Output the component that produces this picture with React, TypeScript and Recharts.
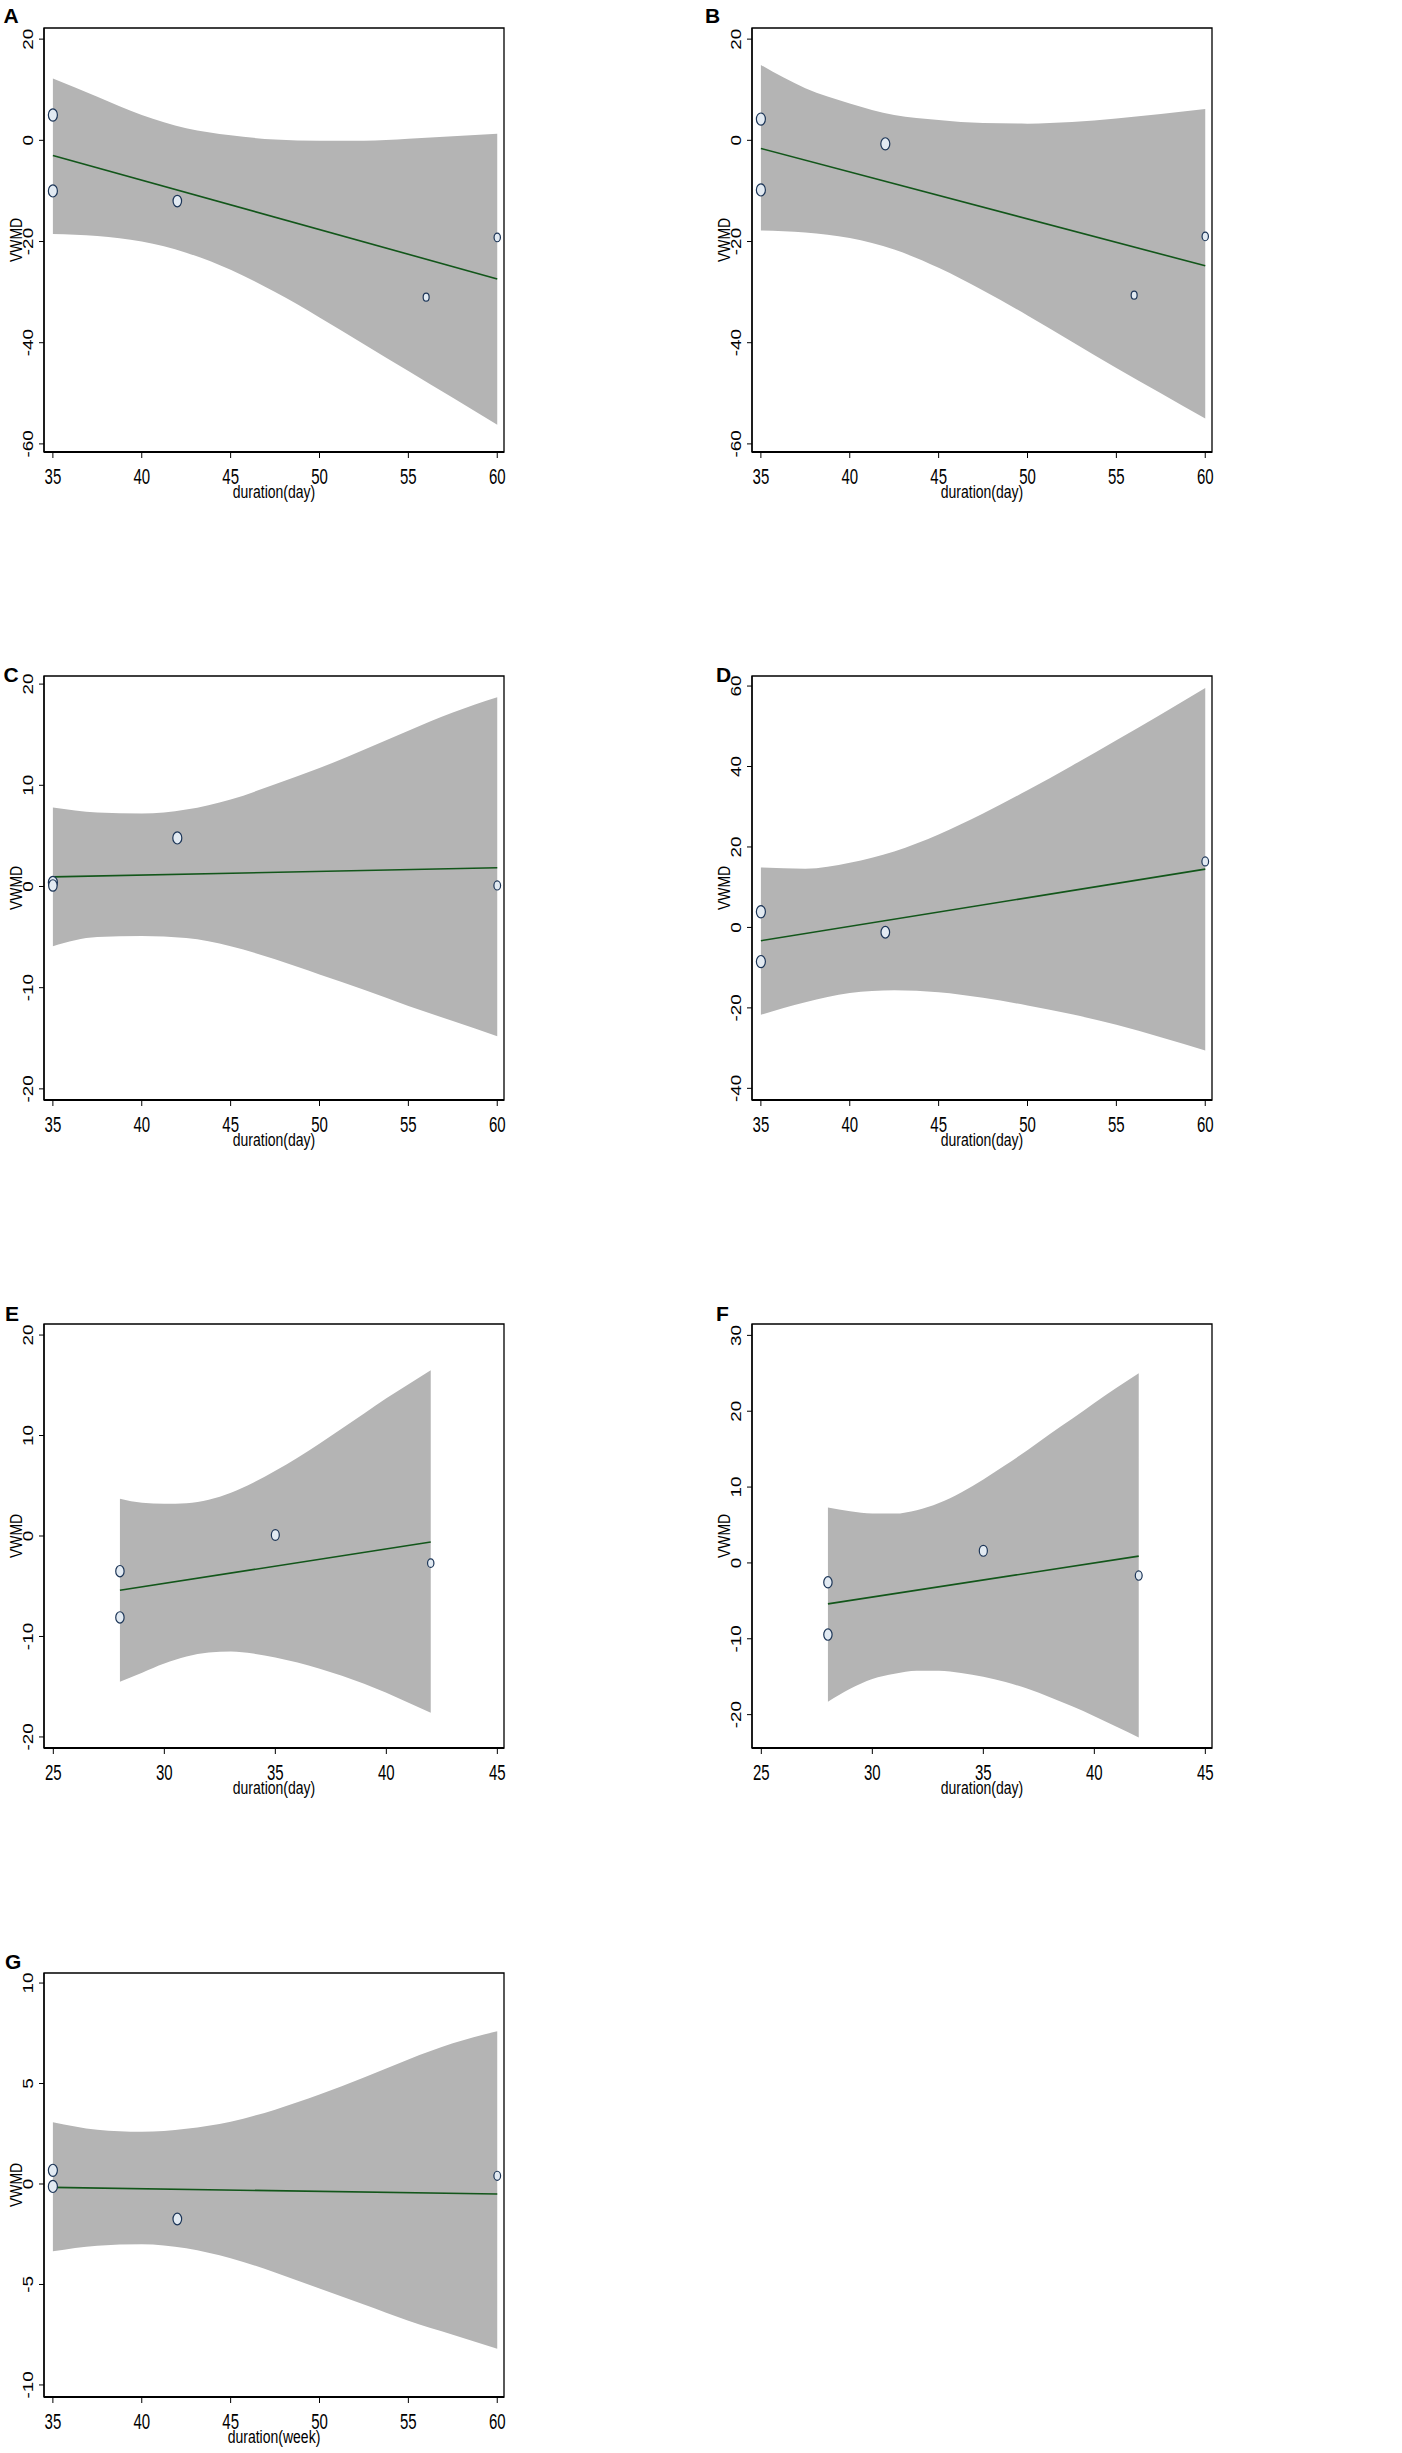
import React from "react";
import {
  ComposedChart,
  Area,
  Line,
  Scatter,
  XAxis,
  YAxis,
  ZAxis,
  ReferenceArea,
} from "recharts";

// ---- data ----
// points: x = duration, y = VWMD, w = study weight (marker size)
const aPoints = [
  { x: 35, y: 5, w: 3 },
  { x: 35, y: -10, w: 3 },
  { x: 42, y: -12, w: 2.6 },
  { x: 56, y: -31, w: 1 },
  { x: 60, y: -19.2, w: 1.2 },
];
const aFit = [{ x: 35, y: -3 }, { x: 60, y: -27.4 }];
const aUpper = [12.2, 8.6, 5.0, 2.4, 1.0, 0.15, -0.1, -0.1, 0.3, 0.8, 1.3];
const aLower = [-18.5, -18.9, -20, -22.2, -25.6, -30, -35, -40.3, -45.6, -50.9, -56.2];

const bPoints = [
  { x: 35, y: 4.2, w: 3 },
  { x: 35, y: -9.8, w: 3 },
  { x: 42, y: -0.7, w: 3 },
  { x: 56, y: -30.6, w: 1 },
  { x: 60, y: -19, w: 1.2 },
];
const bFit = [{ x: 35, y: -1.6 }, { x: 60, y: -24.8 }];
const bUpper = [14.9, 10.3, 7.3, 5.0, 4.0, 3.4, 3.3, 3.6, 4.3, 5.2, 6.2];
const bLower = [-17.8, -18.2, -19.3, -21.6, -25.2, -29.7, -34.6, -39.8, -45, -50, -55];

const cPoints = [
  { x: 35, y: 0.4, w: 3 },
  { x: 35, y: 0.1, w: 2.6 },
  { x: 42, y: 4.8, w: 3 },
  { x: 60, y: 0.1, w: 1.4 },
];
const cFit = [{ x: 35, y: 0.95 }, { x: 60, y: 1.85 }];
const cUpper = [7.8, 7.3, 7.2, 7.6, 8.6, 10.1, 11.7, 13.5, 15.4, 17.2, 18.7];
const cLower = [-5.9, -5.0, -4.9, -5.1, -5.9, -7.2, -8.7, -10.2, -11.8, -13.3, -14.8];

const dPoints = [
  { x: 35, y: 3.9, w: 3 },
  { x: 35, y: -8.5, w: 3 },
  { x: 42, y: -1.2, w: 2.7 },
  { x: 60, y: 16.4, w: 1.4 },
];
const dFit = [{ x: 35, y: -3.3 }, { x: 60, y: 14.5 }];
const dUpper = [14.9, 14.6, 16.1, 18.9, 23.1, 28.3, 34.1, 40.2, 46.5, 52.9, 59.5];
const dLower = [-21.7, -18.6, -16.3, -15.6, -16.1, -17.5, -19.4, -21.6, -24.2, -27.3, -30.6];

const ePoints = [
  { x: 28, y: -3.5, w: 2.5 },
  { x: 28, y: -8.1, w: 2.5 },
  { x: 35, y: 0.1, w: 2.2 },
  { x: 42, y: -2.7, w: 1.2 },
];
const eFit = [{ x: 28, y: -5.4 }, { x: 42, y: -0.6 }];
const eUpper = [3.7, 3.3, 3.2, 3.25, 3.6, 4.3, 5.3, 6.5, 7.8, 9.2, 10.7, 12.2, 13.7, 15.1, 16.5];
const eLower = [-14.5, -13.6, -12.7, -12.0, -11.6, -11.5, -11.7, -12.1, -12.6, -13.2, -13.9, -14.7, -15.6, -16.6, -17.6];

const fPoints = [
  { x: 28, y: -2.55, w: 2.5 },
  { x: 28, y: -9.45, w: 2.5 },
  { x: 35, y: 1.6, w: 2.3 },
  { x: 42, y: -1.67, w: 1.5 },
];
const fFit = [{ x: 28, y: -5.4 }, { x: 42, y: 0.9 }];
const fUpper = [7.3, 6.8, 6.5, 6.5, 6.95, 7.9, 9.3, 11.0, 12.9, 14.9, 17.0, 19.0, 21.1, 23.1, 25];
const fLower = [-18.3, -16.6, -15.3, -14.6, -14.2, -14.2, -14.5, -15.0, -15.7, -16.6, -17.7, -18.9, -20.2, -21.6, -23];

const gPoints = [
  { x: 35, y: 0.68, w: 3 },
  { x: 35, y: -0.12, w: 3 },
  { x: 42, y: -1.74, w: 2.7 },
  { x: 60, y: 0.41, w: 1.4 },
];
const gFit = [{ x: 35, y: -0.17 }, { x: 60, y: -0.5 }];
const gUpper = [3.07, 2.7, 2.6, 2.75, 3.1, 3.7, 4.45, 5.3, 6.2, 7.0, 7.6];
const gLower = [-3.35, -3.07, -3.0, -3.2, -3.7, -4.4, -5.2, -6.0, -6.8, -7.5, -8.2];

// x positions of the band samples
const longGrid = [35, 37.5, 40, 42.5, 45, 47.5, 50, 52.5, 55, 57.5, 60];
const shortGrid = [28, 29, 30, 31, 32, 33, 34, 35, 36, 37, 38, 39, 40, 41, 42];

const longTicks = [35, 40, 45, 50, 55, 60];
const shortTicks = [25, 30, 35, 40, 45];

const FONT = '"Liberation Sans", Arial, Helvetica, sans-serif';
const BAND = "#b4b4b4";
const FIT = "#12561a";
const MARK = "#1c3557";

const FRAME_W = 460;
const FRAME_H = 424;
const Y_AXIS_W = 44;

const XTick = (props: any) => {
  const { x, y, payload } = props;
  return (
    <g transform={`translate(${x},${y + 16}) scale(1,1.45)`}>
      <text
        x={0}
        y={0}
        textAnchor="middle"
        dominantBaseline="central"
        fontSize={15}
        fontFamily={FONT}
        fill="#000"
      >
        {payload.value}
      </text>
    </g>
  );
};

const YTick = (props: any) => {
  const { x, y, payload } = props;
  return (
    <g transform={`translate(${x - 9},${y}) scale(1,1.35) rotate(-90)`}>
      <text
        x={0}
        y={0}
        textAnchor="middle"
        dominantBaseline="central"
        fontSize={14}
        fontFamily={FONT}
        fill="#000"
      >
        {payload.value}
      </text>
    </g>
  );
};

const Marker = (props: any) => {
  const { cx, cy } = props;
  const r = props.width ? props.width / 2 : Math.sqrt((props.size ?? 50) / Math.PI);
  return (
    <ellipse
      cx={cx}
      cy={cy}
      rx={r}
      ry={r * 1.35}
      fill="#e2eaf2"
      stroke={MARK}
      strokeWidth={1.2}
    />
  );
};

type PanelProps = {
  letter: string;
  points: { x: number; y: number; w: number }[];
  fit: { x: number; y: number }[];
  grid: number[];
  upper: number[];
  lower: number[];
  xDomain: [number, number];
  yDomain: [number, number];
  xTicks: number[];
  yTicks: number[];
  xTitle: string;
  left: number;
  top: number;
  letterLeft: number;
  letterBase: number;
};

function Panel(p: PanelProps) {
  const band = p.grid.map((x, i) => ({ x, range: [p.lower[i], p.upper[i]] }));
  return (
    <>
      <div
        style={{
          position: "absolute",
          left: p.letterLeft,
          top: p.letterBase - 17.75,
          fontFamily: FONT,
          fontWeight: 700,
          fontSize: 21,
          lineHeight: 1,
        }}
      >
        {p.letter}
      </div>
      <div style={{ position: "absolute", left: p.left - Y_AXIS_W, top: p.top - 10 }}>
        <ComposedChart
          width={Y_AXIS_W + FRAME_W + 10}
          height={10 + FRAME_H + 56}
          margin={{ top: 10, right: 10, bottom: 0, left: 0 }}
        >
          <XAxis
            type="number"
            dataKey="x"
            domain={p.xDomain}
            ticks={p.xTicks}
            allowDataOverflow
            height={56}
            tickSize={6}
            tickMargin={2}
            tick={<XTick />}
            axisLine={{ stroke: "#000", strokeWidth: 2.2 }}
            tickLine={{ stroke: "#000", strokeWidth: 1 }}
          />
          <YAxis
            type="number"
            domain={p.yDomain}
            ticks={p.yTicks}
            allowDataOverflow
            width={Y_AXIS_W}
            tickSize={5}
            tickMargin={2}
            tick={<YTick />}
            axisLine={{ stroke: "#000", strokeWidth: 1.3 }}
            tickLine={{ stroke: "#000", strokeWidth: 1 }}
          />
          <ZAxis type="number" dataKey="w" domain={[1, 3]} range={[28, 64]} />
          <Area
            data={band}
            dataKey="range"
            type="monotone"
            fill={BAND}
            fillOpacity={1}
            stroke="none"
            isAnimationActive={false}
          />
          <Line
            data={p.fit}
            dataKey="y"
            type="linear"
            stroke={FIT}
            strokeWidth={1.6}
            dot={false}
            activeDot={false}
            isAnimationActive={false}
          />
          <Scatter data={p.points} dataKey="y" shape={<Marker />} isAnimationActive={false} />
          <ReferenceArea
            x1={p.xDomain[0]}
            x2={p.xDomain[1]}
            y1={p.yDomain[0]}
            y2={p.yDomain[1]}
            fill="none"
            stroke="#000"
            strokeWidth={1.3}
          />
        </ComposedChart>
      </div>
      <div
        style={{
          position: "absolute",
          left: p.left + FRAME_W / 2,
          top: p.top + FRAME_H + 39,
          transform: "translate(-50%,-50%) scaleY(1.35)",
          fontFamily: FONT,
          fontSize: 14,
          lineHeight: 1,
          whiteSpace: "nowrap",
        }}
      >
        {p.xTitle}
      </div>
      <div
        style={{
          position: "absolute",
          left: p.left - 27.5,
          top: p.top + FRAME_H / 2,
          transform: "translate(-50%,-50%) rotate(-90deg) scaleX(0.87)",
          fontFamily: FONT,
          fontSize: 16,
          lineHeight: 1,
          whiteSpace: "nowrap",
        }}
      >
        VWMD
      </div>
    </>
  );
}

const LONG_X: [number, number] = [34.5, 60.38];
const SHORT_X: [number, number] = [24.58, 45.3];

export default function App() {
  return (
    <div
      style={{
        position: "absolute",
        left: 0,
        top: 0,
        width: 1402,
        height: 2453,
        background: "#fff",
        overflow: "hidden",
      }}
    >
      <Panel
        letter="A" points={aPoints} fit={aFit} grid={longGrid} upper={aUpper} lower={aLower}
        xDomain={LONG_X} yDomain={[-61.6, 22.2]} xTicks={longTicks} yTicks={[-60, -40, -20, 0, 20]}
        xTitle="duration(day)" left={44} top={28} letterLeft={3.5} letterBase={23}
      />
      <Panel
        letter="B" points={bPoints} fit={bFit} grid={longGrid} upper={bUpper} lower={bLower}
        xDomain={LONG_X} yDomain={[-61.6, 22.2]} xTicks={longTicks} yTicks={[-60, -40, -20, 0, 20]}
        xTitle="duration(day)" left={752} top={28} letterLeft={705} letterBase={23}
      />
      <Panel
        letter="C" points={cPoints} fit={cFit} grid={longGrid} upper={cUpper} lower={cLower}
        xDomain={LONG_X} yDomain={[-21.1, 20.8]} xTicks={longTicks} yTicks={[-20, -10, 0, 10, 20]}
        xTitle="duration(day)" left={44} top={676} letterLeft={3.5} letterBase={682}
      />
      <Panel
        letter="D" points={dPoints} fit={dFit} grid={longGrid} upper={dUpper} lower={dLower}
        xDomain={LONG_X} yDomain={[-42.9, 62.5]} xTicks={longTicks} yTicks={[-40, -20, 0, 20, 40, 60]}
        xTitle="duration(day)" left={752} top={676} letterLeft={716} letterBase={682}
      />
      <Panel
        letter="E" points={ePoints} fit={eFit} grid={shortGrid} upper={eUpper} lower={eLower}
        xDomain={SHORT_X} yDomain={[-21.1, 21.1]} xTicks={shortTicks} yTicks={[-20, -10, 0, 10, 20]}
        xTitle="duration(day)" left={44} top={1324} letterLeft={5} letterBase={1321}
      />
      <Panel
        letter="F" points={fPoints} fit={fFit} grid={shortGrid} upper={fUpper} lower={fLower}
        xDomain={SHORT_X} yDomain={[-24.4, 31.5]} xTicks={shortTicks} yTicks={[-20, -10, 0, 10, 20, 30]}
        xTitle="duration(day)" left={752} top={1324} letterLeft={716} letterBase={1321}
      />
      <Panel
        letter="G" points={gPoints} fit={gFit} grid={longGrid} upper={gUpper} lower={gLower}
        xDomain={LONG_X} yDomain={[-10.6, 10.5]} xTicks={longTicks} yTicks={[-10, -5, 0, 5, 10]}
        xTitle="duration(week)" left={44} top={1973} letterLeft={5} letterBase={1969}
      />
    </div>
  );
}
